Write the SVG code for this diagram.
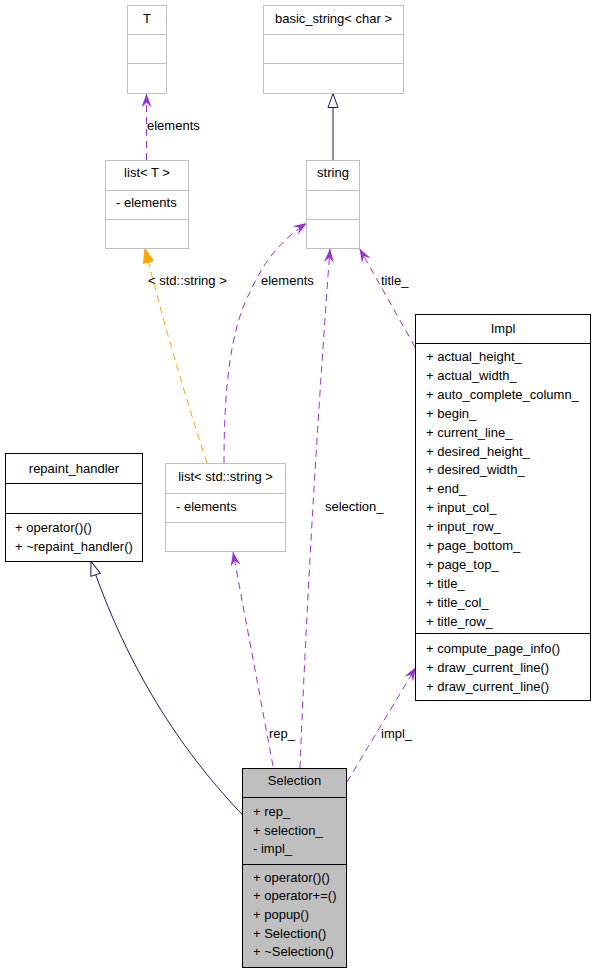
<svg xmlns="http://www.w3.org/2000/svg" width="595" height="973" viewBox="0 0 595 973">
<style>
text{font-family:"Liberation Sans",Arial,sans-serif;font-size:13px;fill:#000}
.c{text-anchor:middle}
.g{fill:#fff;stroke:#bfbfbf;stroke-width:1}
.gl{stroke:#bfbfbf;stroke-width:1}
.k{fill:#fff;stroke:#000;stroke-width:1}
.kl{stroke:#000;stroke-width:1}
.sel{fill:#bfbfbf;stroke:#000;stroke-width:1}
.use{fill:none;stroke:#9a32cd;stroke-width:1;stroke-dasharray:7,5;marker-end:url(#vee)}
.inh{fill:none;stroke:#191970;stroke-width:1;marker-end:url(#tri)}
.tpl{fill:none;stroke:#ffa500;stroke-width:1;stroke-dasharray:7,5;marker-end:url(#otri)}
</style>
<defs>
<marker id="vee" viewBox="0 0 14 10" refX="14" refY="5" markerWidth="14" markerHeight="10" orient="auto" markerUnits="userSpaceOnUse">
<path d="M0,0 L14,5 L0,10 L5,5 Z" fill="#9a32cd"/>
</marker>
<marker id="tri" viewBox="-1 -1 16 12" refX="14" refY="5" markerWidth="16" markerHeight="12" orient="auto" markerUnits="userSpaceOnUse">
<path d="M0,0 L14,5 L0,10 Z" fill="#fff" stroke="#191970" stroke-width="1"/>
</marker>
<marker id="otri" viewBox="-1 -1 16 12" refX="14" refY="5" markerWidth="16" markerHeight="12" orient="auto" markerUnits="userSpaceOnUse">
<path d="M0,0 L14,5 L0,10 Z" fill="#ffa500" stroke="#ffa500" stroke-width="1"/>
</marker>
</defs>
<rect width="595" height="973" fill="#fff"/>

<g id="connectors">
<path class="use" d="M146.5,160 L146.5,93.5"/>
<path class="inh" d="M333,160 L333,93.5"/>
<path class="tpl" d="M207,463 Q170,350 145,248.5"/>
<path class="use" d="M224,463 C224,390 230,330 250,292 C262,265 280,240 307,223"/>
<path class="use" d="M300,768 Q310,520 330,248.5"/>
<path class="use" d="M415,347 L359.5,248.5"/>
<path class="use" d="M273,766 L233,552"/>
<path class="use" d="M347,782 L416,667"/>
<path class="inh" d="M242.7,815 C198,768 135,690 91,561.5"/>
<text x="147" y="129.5">elements</text>
<text x="148" y="284.5">&lt; std::string &gt;</text>
<text x="261" y="284.5">elements</text>
<text x="381" y="284.5">title_</text>
<text x="325" y="511">selection_</text>
<text x="269" y="738">rep_</text>
<text x="381" y="738">impl_</text>
</g>

<g id="T">
<rect class="g" x="127.5" y="5.5" width="39" height="88"/>
<line class="gl" x1="127.5" y1="34.5" x2="166.5" y2="34.5"/>
<line class="gl" x1="127.5" y1="63.5" x2="166.5" y2="63.5"/>
<text class="c" x="147" y="23">T</text>
</g>

<g id="basic_string">
<rect class="g" x="263.5" y="5.5" width="140" height="88"/>
<line class="gl" x1="263.5" y1="34.5" x2="403.5" y2="34.5"/>
<line class="gl" x1="263.5" y1="63.5" x2="403.5" y2="63.5"/>
<text class="c" x="333.5" y="23">basic_string&lt; char &gt;</text>
</g>

<g id="list_T">
<rect class="g" x="105.5" y="160.5" width="83" height="88"/>
<line class="gl" x1="105.5" y1="190.5" x2="188.5" y2="190.5"/>
<line class="gl" x1="105.5" y1="219.5" x2="188.5" y2="219.5"/>
<text class="c" x="147" y="177">list&lt; T &gt;</text>
<text x="116" y="206.5">- elements</text>
</g>

<g id="string">
<rect class="g" x="306.5" y="160.5" width="53" height="88"/>
<line class="gl" x1="306.5" y1="190.5" x2="359.5" y2="190.5"/>
<line class="gl" x1="306.5" y1="219.5" x2="359.5" y2="219.5"/>
<text class="c" x="333" y="177">string</text>
</g>

<g id="list_string">
<rect class="g" x="165.5" y="463.5" width="120" height="88"/>
<line class="gl" x1="165.5" y1="493.5" x2="285.5" y2="493.5"/>
<line class="gl" x1="165.5" y1="522.5" x2="285.5" y2="522.5"/>
<text class="c" x="225.5" y="481">list&lt; std::string &gt;</text>
<text x="176" y="511">- elements</text>
</g>

<g id="repaint_handler">
<rect class="k" x="5.5" y="453.5" width="137" height="108"/>
<line class="kl" x1="5.5" y1="483.5" x2="142.5" y2="483.5"/>
<line class="kl" x1="5.5" y1="513.5" x2="142.5" y2="513.5"/>
<text class="c" x="74" y="473">repaint_handler</text>
<text x="15" y="532">+ operator()()</text>
<text x="15" y="550.5">+ ~repaint_handler()</text>
</g>

<g id="Impl">
<rect class="k" x="415.5" y="314.5" width="175" height="386"/>
<line class="kl" x1="415.5" y1="343.5" x2="590.5" y2="343.5"/>
<line class="kl" x1="415.5" y1="633.5" x2="590.5" y2="633.5"/>
<text class="c" x="503" y="333">Impl</text>
<text x="426" y="361">+ actual_height_</text>
<text x="426" y="379.9">+ actual_width_</text>
<text x="426" y="398.8">+ auto_complete_column_</text>
<text x="426" y="417.7">+ begin_</text>
<text x="426" y="436.6">+ current_line_</text>
<text x="426" y="455.5">+ desired_height_</text>
<text x="426" y="474.4">+ desired_width_</text>
<text x="426" y="493.3">+ end_</text>
<text x="426" y="512.2">+ input_col_</text>
<text x="426" y="531.1">+ input_row_</text>
<text x="426" y="550">+ page_bottom_</text>
<text x="426" y="568.9">+ page_top_</text>
<text x="426" y="587.8">+ title_</text>
<text x="426" y="606.7">+ title_col_</text>
<text x="426" y="625.6">+ title_row_</text>
<text x="426" y="653">+ compute_page_info()</text>
<text x="426" y="671.9">+ draw_current_line()</text>
<text x="426" y="690.8">+ draw_current_line()</text>
</g>

<g id="Selection">
<rect class="sel" x="242.5" y="768.5" width="104" height="199"/>
<line class="kl" x1="242.5" y1="797.5" x2="346.5" y2="797.5"/>
<line class="kl" x1="242.5" y1="864.5" x2="346.5" y2="864.5"/>
<text class="c" x="294.5" y="785">Selection</text>
<text x="253" y="816">+ rep_</text>
<text x="253" y="834.7">+ selection_</text>
<text x="253" y="853.4">- impl_</text>
<text x="253" y="881.5">+ operator()()</text>
<text x="253" y="900.2">+ operator+=()</text>
<text x="253" y="918.9">+ popup()</text>
<text x="253" y="937.6">+ Selection()</text>
<text x="253" y="956.3">+ ~Selection()</text>
</g>
</svg>
